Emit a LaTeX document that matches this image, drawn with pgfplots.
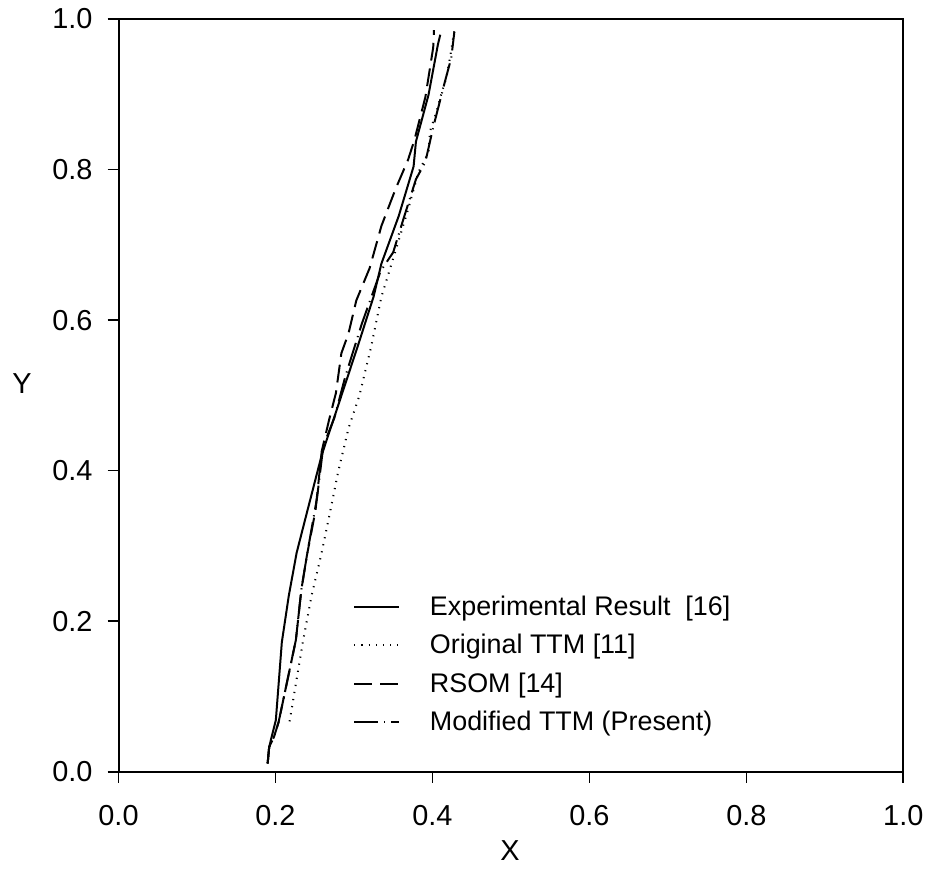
\documentclass[border=0pt]{standalone}
\usepackage{pgfplots}
\pgfplotsset{compat=1.18}
\usepackage{fontspec}
\setmainfont{Liberation Sans}
\begin{document}
\begin{tikzpicture}
\begin{axis}[
  scale only axis,
  width=394pt, height=378pt,
  xmin=0, xmax=1, ymin=0, ymax=1,
  xtick={0,0.2,0.4,0.6,0.8,1.0},
  ytick={0,0.2,0.4,0.6,0.8,1.0},
  xtick pos=bottom, ytick pos=left,
  tick align=outside,
  major tick length=5.5pt,
  axis line style={line width=1pt},
  every tick/.style={line width=0.8pt, black},
  /pgf/number format/assume math mode=true,
  /pgf/number format/.cd, fixed, fixed zerofill, precision=1, /pgfplots/.cd,
  tick label style={font=\fontsize{14.5}{17}\selectfont},
  xticklabel style={yshift=-8pt},
  yticklabel style={xshift=-4pt},
  xlabel={X}, ylabel={Y},
  every axis x label/.style={at={(axis description cs:0.499,-0.104)}, anchor=center, font=\fontsize{14.5}{17}\selectfont},
  every axis y label/.style={at={(axis description cs:-0.123,0.516)}, anchor=center, font=\fontsize{14.5}{17}\selectfont},
  legend style={draw=none, fill=none, at={(axis cs:0.291,0.245)}, anchor=north west,
    font=\fontsize{13.5}{16}\selectfont, row sep=4pt, column sep=0pt},
  legend cell align=left,
  legend image code/.code={\draw[#1] (0pt,0pt) -- (22.5pt,0pt); \path[draw=none] (0pt,0pt) -- (36pt,0pt);},
  every axis plot/.append style={line width=1pt, black},
]
% Experimental Result [16]
\addplot[solid] coordinates {
(0.190,0.011) (0.192,0.033) (0.196,0.050) (0.2005,0.0688) (0.2081,0.172) (0.217,0.234) (0.227,0.291)
(0.240,0.344) (0.259,0.421) (0.287,0.509) (0.306,0.569) (0.325,0.631)
(0.335,0.675) (0.357,0.738) (0.376,0.804) (0.379,0.837) (0.395,0.899)
(0.407,0.966) (0.410,0.979)
};
\addlegendentry{Experimental Result\ \ [16]}
% Original TTM [11]
\addplot[dash pattern=on 0.6pt off 3pt] coordinates {
(0.218,0.067) (0.235,0.173) (0.246,0.234) (0.258,0.287) (0.268,0.337)
(0.280,0.399) (0.293,0.456) (0.307,0.500) (0.322,0.565) (0.335,0.631)
(0.348,0.675) (0.369,0.747) (0.382,0.796) (0.395,0.823) (0.397,0.851)
(0.405,0.876) (0.411,0.899) (0.418,0.923) (0.423,0.952) (0.428,0.985)
};
\addlegendentry{Original TTM [11]}
% RSOM [14]
\addplot[dash pattern=on 9pt off 4pt] coordinates {
(0.190,0.011) (0.192,0.033) (0.198,0.046) (0.204,0.066) (0.226,0.175)
(0.233,0.242) (0.240,0.287) (0.251,0.347) (0.259,0.426) (0.268,0.466)
(0.277,0.503) (0.284,0.556) (0.293,0.582) (0.303,0.626) (0.320,0.669)
(0.335,0.725) (0.353,0.774) (0.369,0.813) (0.377,0.839) (0.391,0.896)
(0.401,0.962) (0.402,0.985)
};
\addlegendentry{RSOM [14]}
% Modified TTM (Present)
\addplot[dash pattern=on 12pt off 3pt on 0.6pt off 3pt] coordinates {
(0.190,0.011) (0.192,0.033) (0.198,0.046) (0.204,0.066) (0.226,0.175)
(0.233,0.242) (0.240,0.287) (0.253,0.364) (0.261,0.433) (0.275,0.470)
(0.289,0.525) (0.310,0.595) (0.334,0.665) (0.350,0.690) (0.363,0.734)
(0.379,0.787) (0.391,0.810) (0.401,0.856) (0.416,0.917) (0.424,0.948)
(0.428,0.983)
};
\addlegendentry{Modified TTM (Present)}
\end{axis}
\path (current axis.south west) ++(-59.5pt,-61pt) rectangle ++(465pt,448.5pt);
\end{tikzpicture}
\end{document}
